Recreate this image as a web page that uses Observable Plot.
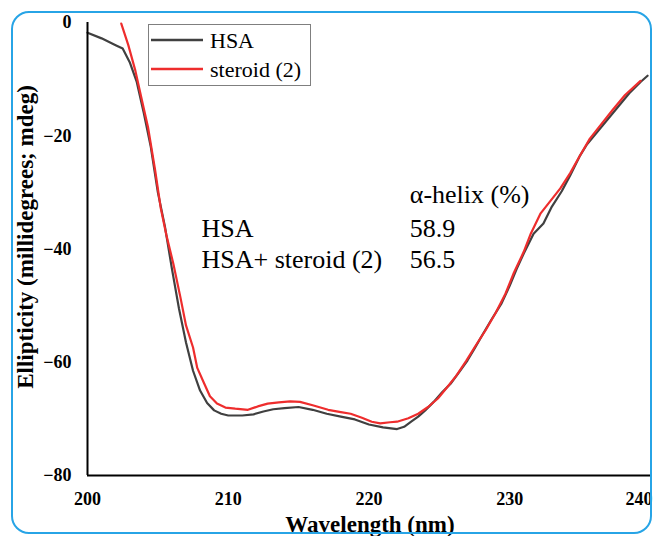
<!DOCTYPE html>
<html><head><meta charset="utf-8">
<script src="https://cdn.jsdelivr.net/npm/d3@7"></script>
<script src="https://cdn.jsdelivr.net/npm/@observablehq/plot@0.6"></script>
<style>
body{margin:0;background:#fff;}
#wrap{position:relative;width:653px;height:536px;overflow:hidden;font-family:"Liberation Serif",serif;background:#fff;}
#border{position:absolute;left:11px;top:11px;width:641px;height:523px;box-sizing:border-box;border:2px solid #27a4e6;border-radius:18px;pointer-events:none;}
#legend{position:absolute;left:148px;top:24px;width:163px;height:62px;box-sizing:border-box;border:1px solid #7f7f7f;background:#fff;}
#chart svg{display:block;}
#chart svg text, #legend text{font-family:"Liberation Serif",serif;}
</style></head>
<body><div id="wrap"><div id="chart"></div><div id="legend"></div><div id="border"></div></div>
<script>
// ---- data ----
const hsaWavelength = [200,201,202,202.5,203,203.5,204,204.5,205,205.5,206,206.5,207,207.5,208,208.5,209,209.5,210,211,211.8,212.5,213.2,214,215,216,217,218,219,220,221,222,222.5,223,223.5,224,224.6,225.2,225.8,226.4,227,227.5,228.1,228.7,229.4,230,230.5,231,231.7,232.4,233,233.7,234.3,235,235.5,236.5,237.5,238.5,239.3,239.8];
const hsaEllipticity = [-1.8,-2.8,-4.0,-4.6,-7,-10.5,-16,-22,-30,-36,-43.5,-50.5,-56.5,-61.5,-65,-67.2,-68.5,-69.1,-69.4,-69.4,-69.2,-68.7,-68.3,-68.1,-67.9,-68.4,-69.1,-69.6,-70.1,-71.0,-71.5,-71.8,-71.4,-70.5,-69.6,-68.5,-67,-65.3,-63.8,-61.8,-59.7,-57.6,-55,-52.5,-49.7,-46.5,-43.5,-40.8,-37.3,-35.5,-32.5,-29.8,-27,-23.5,-21.5,-18.5,-15.5,-12.5,-10.5,-9.4];
const steroidWavelength = [202.4,202.9,203.4,203.8,204.3,204.8,205.2,205.6,206.1,206.6,207,207.5,207.8,208.3,208.7,209.2,209.8,210.5,211.4,212.1,212.8,213.6,214.4,215.1,216,217.1,218,218.7,219.5,220.2,220.8,221.5,222,222.8,223.5,224.2,224.9,225.5,226.2,226.9,227.6,228.3,229,229.7,230.3,231,231.5,232.2,232.9,233.6,234.3,235,235.7,236.5,237.3,238.2,239.3];
const steroidEllipticity = [-0.2,-4,-8.5,-13,-18.5,-26,-32.7,-37.5,-42.6,-48.5,-53.5,-57.4,-61,-63.8,-66,-67.3,-68,-68.2,-68.4,-67.8,-67.3,-67.1,-66.9,-67,-67.6,-68.4,-68.8,-69.1,-69.8,-70.5,-70.8,-70.6,-70.5,-69.9,-69.1,-67.9,-66.4,-64.6,-62.4,-59.8,-57,-54.3,-51.3,-47.9,-44.2,-40.5,-37.3,-33.7,-31.5,-29.3,-26.6,-23.5,-20.5,-18,-15.5,-12.8,-10.3];
const seriesNames = ["HSA", "steroid (2)"];
const seriesColors = ["#404040", "#ee2d2d"];
const xTicks = [200, 210, 220, 230, 240];
const yTicks = [-80, -60, -40, -20, 0];
const xLabel = "Wavelength (nm)";
const yLabel = "Ellipticity (millidegrees; mdeg)";
const tableHeader = "α-helix (%)";
const tableRows = ["HSA", "HSA+ steroid (2)"];
const helixValues = [58.9, 56.5];

// ---- build ----
const lines = [
  ...hsaWavelength.map((x, i) => ({x, y: hsaEllipticity[i], s: seriesNames[0]})),
  ...steroidWavelength.map((x, i) => ({x, y: steroidEllipticity[i], s: seriesNames[1]}))
];
const rows = tableRows.map((label, i) => ({label, value: helixValues[i].toFixed(1), i}));
const rowY = i => -37.8 - i * 5.5;
const serif = '"Liberation Serif", serif';

const chart = Plot.plot({
  width: 653, height: 536,
  marginLeft: 87, marginRight: 1, marginTop: 22, marginBottom: 61,
  style: {fontFamily: serif, background: "transparent", color: "#000", overflow: "visible"},
  x: {domain: [200, 240.15]},
  y: {domain: [-80, 0]},
  color: {domain: seriesNames, range: seriesColors},
  marks: [
    Plot.axisX(xTicks.slice(0, -1), {tickSize: 0, tickPadding: 17, fontSize: 18, fontWeight: "bold", label: null}),
    Plot.axisX(xTicks.slice(-1), {tickSize: 0, tickPadding: 17, fontSize: 18, fontWeight: "bold", textAnchor: "end", dx: 2, label: null}),
    Plot.axisY(yTicks, {tickSize: 0, tickPadding: 16, fontSize: 18, fontWeight: "bold", label: null}),
    Plot.line(lines, {x: "x", y: "y", z: "s", stroke: "s", strokeWidth: 2.2}),
    Plot.ruleX([200], {stroke: "#000", strokeWidth: 2}),
    Plot.ruleY([-80], {stroke: "#000", strokeWidth: 2}),
    Plot.text([xLabel], {frameAnchor: "bottom", dy: 56, lineAnchor: "bottom", fontSize: 23, fontWeight: "bold", fill: "#000"}),
    Plot.text([yLabel], {frameAnchor: "left", rotate: -90, dx: -62, dy: -12, lineAnchor: "middle", textAnchor: "middle", fontSize: 23, fontWeight: "bold", fill: "#000"}),
    Plot.text([tableHeader], {x: () => 222.9, y: () => -31.8, textAnchor: "start", lineAnchor: "bottom", fontSize: 26, fill: "#000"}),
    Plot.text(rows, {x: () => 208.1, y: d => rowY(d.i), text: "label", textAnchor: "start", lineAnchor: "bottom", fontSize: 26, fill: "#000"}),
    Plot.text(rows, {x: () => 222.9, y: d => rowY(d.i), text: "value", textAnchor: "start", lineAnchor: "bottom", fontSize: 26, fill: "#000"})
  ]
});
document.getElementById("chart").appendChild(chart);

// legend (HTML overlay)
const ns = "http://www.w3.org/2000/svg";
const lg = document.createElementNS(ns, "svg");
lg.setAttribute("width", 161); lg.setAttribute("height", 60);
lg.style.display = "block";
seriesNames.forEach((name, i) => {
  const yy = 15 + i * 29;
  const ln = document.createElementNS(ns, "line");
  ln.setAttribute("x1", 2); ln.setAttribute("x2", 54);
  ln.setAttribute("y1", yy); ln.setAttribute("y2", yy);
  ln.setAttribute("stroke", seriesColors[i]); ln.setAttribute("stroke-width", 2.5);
  lg.appendChild(ln);
  const t = document.createElementNS(ns, "text");
  t.setAttribute("x", 61); t.setAttribute("y", yy + 8);
  t.setAttribute("font-size", 22);
  t.textContent = name;
  lg.appendChild(t);
});
document.getElementById("legend").appendChild(lg);
</script>
</body></html>
